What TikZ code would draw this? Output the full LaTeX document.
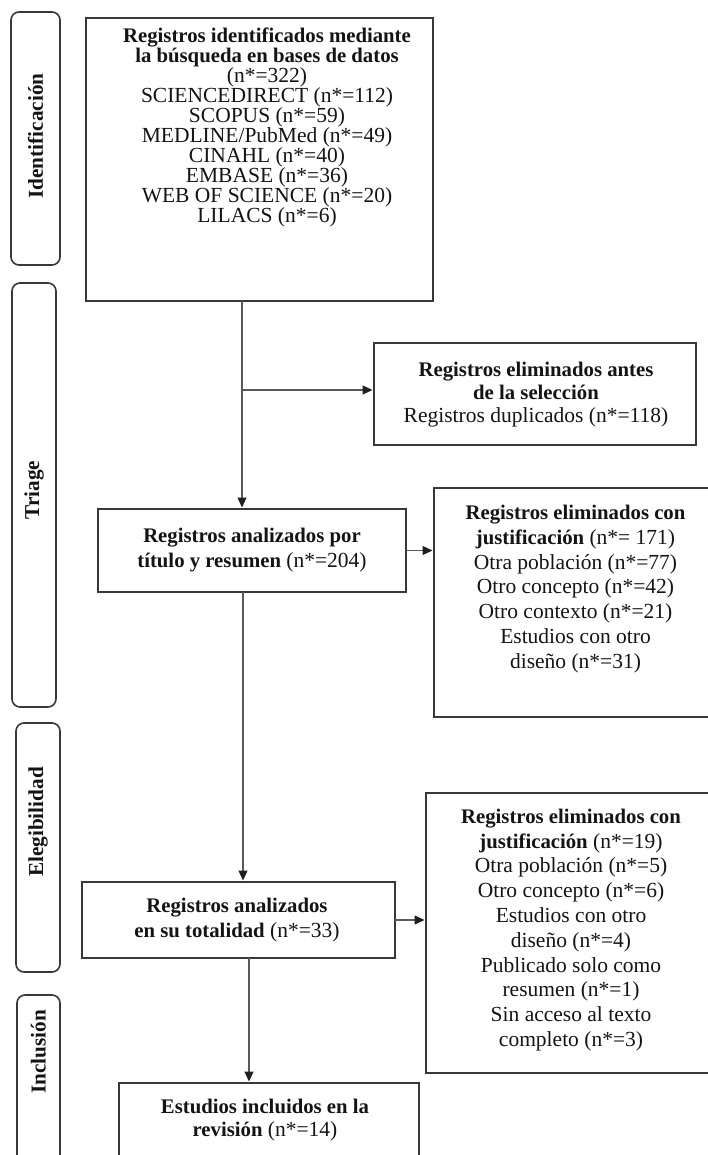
\documentclass[tikz,border=0pt]{standalone}
\usepackage{fontspec}
\setmainfont{Liberation Serif}[BoldFeatures={Scale=0.965}]
\usetikzlibrary{arrows.meta}
\begin{document}
\begin{tikzpicture}[x=1pt,y=-1pt,
  box/.style={draw=black!78, line width=1.6pt, inner sep=0pt, outer sep=0pt},
  phase/.style={draw=black!78, line width=1.6pt, rounded corners=8pt, inner sep=0pt, outer sep=0pt},
  txt/.style={align=center, text=black!92, inner sep=0pt},
  flow/.style={draw=black!65, line width=1.1pt},
  arr/.style={flow, -{Triangle[length=10pt,width=9pt,color=black!88,fill=black!88]}, shorten >=1.5pt},
  plabel/.style={font=\bfseries\fontsize{22}{24}\selectfont, rotate=90, inner sep=0pt, text=black!92}
]
\useasboundingbox (0,0) rectangle (708,1155);
\clip (0,0) rectangle (708,1155);
\fill[white] (0,0) rectangle (708,1155);

% phase boxes
\node[phase, minimum width=49, minimum height=253] (p1) at (35.5,138.5) {};
\node[phase, minimum width=44, minimum height=424] (p2) at (34,495) {};
\node[phase, minimum width=44, minimum height=249] (p3) at (38,847.5) {};
\node[phase, minimum width=43, minimum height=185] (p4) at (38.5,1087.5) {};
\node[plabel] (l1) at (35.5,136) {Identificación};
\node[plabel] (l2) at (34,490) {Triage};
\node[plabel] (l3) at (38,822) {Elegibilidad};
\node[plabel] (l4) at (38.5,1052) {Inclusión};

% boxes
\node[box, minimum width=347, minimum height=283] (b1) at (259.5,159.5) {};
\node[box, minimum width=322, minimum height=102] (ba) at (535,394) {};
\node[box, minimum width=308, minimum height=83] (b2) at (252,550.5) {};
\node[box, minimum width=283, minimum height=229] (b3) at (575.5,602.5) {};
\node[box, minimum width=313, minimum height=76] (b4) at (238.5,920) {};
\node[box, minimum width=290, minimum height=280] (b5) at (571,933) {};
\node[box, minimum width=300, minimum height=97] (b6) at (269,1131.5) {};

% texts
\node[txt, font=\fontsize{21.5}{20}\selectfont] (t1) at (267,127) {\textbf{Registros identificados mediante}\\ \textbf{la búsqueda en bases de datos}\\ (n*=322)\\ SCIENCEDIRECT (n*=112)\\ SCOPUS (n*=59)\\ MEDLINE/PubMed (n*=49)\\ CINAHL (n*=40)\\ EMBASE (n*=36)\\ WEB OF SCIENCE (n*=20)\\ LILACS (n*=6)};
\node[txt, font=\fontsize{21.5}{23}\selectfont] (ta) at (536,395) {\textbf{Registros eliminados antes}\\ \textbf{de la selección}\\ Registros duplicados (n*=118)};
\node[txt, font=\fontsize{21.5}{25}\selectfont] (t2) at (252,550) {\textbf{Registros analizados por}\\ \textbf{título y resumen} (n*=204)};
\node[txt, font=\fontsize{21.5}{24.7}\selectfont] (t3) at (575.5,589) {\textbf{Registros eliminados con}\\ \textbf{justificación} (n*= 171)\\ Otra población (n*=77)\\ Otro concepto (n*=42)\\ Otro contexto (n*=21)\\ Estudios con otro\\ diseño (n*=31)};
\node[txt, font=\fontsize{21.5}{25}\selectfont] (t4) at (237,920.5) {\textbf{Registros analizados}\\ \textbf{en su totalidad} (n*=33)};
\node[txt, font=\fontsize{21.5}{24.8}\selectfont] (t5) at (571,930) {\textbf{Registros eliminados con}\\ \textbf{justificación} (n*=19)\\ Otra población (n*=5)\\ Otro concepto (n*=6)\\ Estudios con otro\\ diseño (n*=4)\\ Publicado solo como\\ resumen (n*=1)\\ Sin acceso al texto\\ completo (n*=3)};
\node[txt, font=\fontsize{21.5}{23}\selectfont] (t6) at (265,1120) {\textbf{Estudios incluidos en la}\\ \textbf{revisión} (n*=14)};

% connectors
\coordinate (v1) at (242,0);
\coordinate (v2) at (243,0);
\coordinate (v3) at (249,0);
\coordinate (br) at (242,390);
\draw[arr] (v1 |- b1.south) -- (v1 |- b2.north);
\draw[arr] (br) -- (br -| ba.west);
\draw[arr] (b2.east) -- (b2.east -| b3.west);
\draw[arr] (v2 |- b2.south) -- (v2 |- b4.north);
\draw[arr] (b4.east) -- (b4.east -| b5.west);
\draw[arr] (v3 |- b4.south) -- (v3 |- b6.north);
\end{tikzpicture}
\end{document}
